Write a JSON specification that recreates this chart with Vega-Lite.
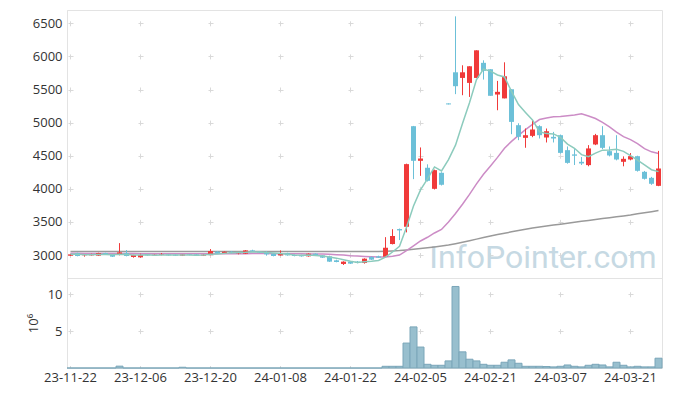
{
  "$schema": "https://vega.github.io/schema/vega-lite/v6.json",
  "padding": {"left": 26, "top": 9, "right": 9, "bottom": 5},
  "background": "white",
  "spacing": 0,
  "bounds": "flush",
  "config": {
    "font": "Open Sans",
    "view": {"stroke": "#e3e3e3"},
    "axis": {
      "labelFont": "Open Sans",
      "labelFontSize": 13,
      "labelColor": "#333333",
      "labelOverlap": false,
      "domainColor": "#e3e3e3",
      "ticks": false,
      "gridColor": "#d9d9d9",
      "titleFont": "Open Sans",
      "titleFontSize": 13,
      "titleFontWeight": "normal",
      "titleColor": "#333333"
    }
  },
  "data": {
    "values": [
      {"d": "23-11-22", "o": 2990, "h": 3015, "l": 2985, "c": 3010, "v": 0, "ma5": 3012, "ma20": 3025, "ma120": 3055},
      {"d": "23-11-23", "o": 3030, "h": 3035, "l": 2980, "c": 2985, "v": 0, "ma5": 3010, "ma20": 3025, "ma120": 3055},
      {"d": "23-11-24", "o": 2995, "h": 3005, "l": 2975, "c": 3000, "v": 0, "ma5": 3005, "ma20": 3024, "ma120": 3055},
      {"d": "23-11-27", "o": 2995, "h": 3020, "l": 2990, "c": 3015, "v": 0, "ma5": 3005, "ma20": 3024, "ma120": 3055},
      {"d": "23-11-28", "o": 2990, "h": 3035, "l": 2985, "c": 3030, "v": 0, "ma5": 3008, "ma20": 3024, "ma120": 3055},
      {"d": "23-11-29", "o": 3030, "h": 3035, "l": 3000, "c": 3005, "v": 0, "ma5": 3007, "ma20": 3023, "ma120": 3055},
      {"d": "23-11-30", "o": 3010, "h": 3015, "l": 2970, "c": 2975, "v": 0, "ma5": 3004, "ma20": 3023, "ma120": 3055},
      {"d": "23-12-01", "o": 3000, "h": 3180, "l": 2995, "c": 3040, "v": 0.25, "ma5": 3013, "ma20": 3023, "ma120": 3055},
      {"d": "23-12-04", "o": 3030, "h": 3075, "l": 2980, "c": 2985, "v": 0, "ma5": 3007, "ma20": 3022, "ma120": 3055},
      {"d": "23-12-05", "o": 2970, "h": 3005, "l": 2960, "c": 3000, "v": 0, "ma5": 3001, "ma20": 3022, "ma120": 3055},
      {"d": "23-12-06", "o": 2965, "h": 3020, "l": 2960, "c": 3000, "v": 0, "ma5": 3000, "ma20": 3021, "ma120": 3055},
      {"d": "23-12-07", "o": 3010, "h": 3015, "l": 2990, "c": 2995, "v": 0, "ma5": 3004, "ma20": 3021, "ma120": 3055},
      {"d": "23-12-08", "o": 2995, "h": 3010, "l": 2990, "c": 3005, "v": 0, "ma5": 2997, "ma20": 3020, "ma120": 3055},
      {"d": "23-12-11", "o": 3000, "h": 3030, "l": 2995, "c": 3010, "v": 0, "ma5": 3002, "ma20": 3020, "ma120": 3055},
      {"d": "23-12-12", "o": 3010, "h": 3015, "l": 2990, "c": 2995, "v": 0, "ma5": 3001, "ma20": 3020, "ma120": 3055},
      {"d": "23-12-13", "o": 3005, "h": 3010, "l": 2985, "c": 2990, "v": 0, "ma5": 2999, "ma20": 3019, "ma120": 3055},
      {"d": "23-12-14", "o": 2990, "h": 3015, "l": 2985, "c": 3010, "v": 0.1, "ma5": 3002, "ma20": 3019, "ma120": 3055},
      {"d": "23-12-15", "o": 3010, "h": 3015, "l": 2995, "c": 3000, "v": 0, "ma5": 3001, "ma20": 3019, "ma120": 3055},
      {"d": "23-12-18", "o": 3010, "h": 3015, "l": 2985, "c": 2990, "v": 0, "ma5": 2997, "ma20": 3018, "ma120": 3055},
      {"d": "23-12-19", "o": 2990, "h": 3010, "l": 2985, "c": 3005, "v": 0, "ma5": 2999, "ma20": 3018, "ma120": 3055},
      {"d": "23-12-20", "o": 3000, "h": 3090, "l": 2995, "c": 3060, "v": 0, "ma5": 3013, "ma20": 3018, "ma120": 3055},
      {"d": "23-12-21", "o": 3050, "h": 3060, "l": 3015, "c": 3020, "v": 0, "ma5": 3015, "ma20": 3018, "ma120": 3055},
      {"d": "23-12-22", "o": 3020, "h": 3055, "l": 3015, "c": 3050, "v": 0, "ma5": 3025, "ma20": 3019, "ma120": 3055},
      {"d": "23-12-26", "o": 3050, "h": 3060, "l": 3025, "c": 3030, "v": 0, "ma5": 3033, "ma20": 3019, "ma120": 3055},
      {"d": "23-12-27", "o": 3025, "h": 3040, "l": 3010, "c": 3035, "v": 0, "ma5": 3039, "ma20": 3020, "ma120": 3055},
      {"d": "23-12-28", "o": 3020, "h": 3075, "l": 3015, "c": 3070, "v": 0, "ma5": 3041, "ma20": 3021, "ma120": 3055},
      {"d": "24-01-02", "o": 3070, "h": 3080, "l": 3045, "c": 3050, "v": 0, "ma5": 3047, "ma20": 3022, "ma120": 3055},
      {"d": "24-01-03", "o": 3050, "h": 3060, "l": 3030, "c": 3035, "v": 0, "ma5": 3044, "ma20": 3022, "ma120": 3055},
      {"d": "24-01-04", "o": 3040, "h": 3060, "l": 2990, "c": 3010, "v": 0, "ma5": 3040, "ma20": 3022, "ma120": 3055},
      {"d": "24-01-05", "o": 3020, "h": 3030, "l": 2980, "c": 2985, "v": 0, "ma5": 3030, "ma20": 3021, "ma120": 3055},
      {"d": "24-01-08", "o": 2995, "h": 3070, "l": 2990, "c": 3030, "v": 0, "ma5": 3022, "ma20": 3021, "ma120": 3055},
      {"d": "24-01-09", "o": 3030, "h": 3035, "l": 2990, "c": 2995, "v": 0, "ma5": 3011, "ma20": 3020, "ma120": 3055},
      {"d": "24-01-10", "o": 3000, "h": 3010, "l": 2980, "c": 2985, "v": 0, "ma5": 3001, "ma20": 3019, "ma120": 3055},
      {"d": "24-01-11", "o": 3000, "h": 3005, "l": 2975, "c": 2980, "v": 0, "ma5": 2997, "ma20": 3018, "ma120": 3055},
      {"d": "24-01-12", "o": 2980, "h": 3025, "l": 2975, "c": 3020, "v": 0, "ma5": 3002, "ma20": 3017, "ma120": 3055},
      {"d": "24-01-15", "o": 3020, "h": 3025, "l": 2985, "c": 2990, "v": 0, "ma5": 2994, "ma20": 3016, "ma120": 3055},
      {"d": "24-01-16", "o": 2995, "h": 3000, "l": 2955, "c": 2960, "v": 0, "ma5": 2987, "ma20": 3014, "ma120": 3055},
      {"d": "24-01-17", "o": 2980, "h": 2990, "l": 2895, "c": 2900, "v": 0, "ma5": 2970, "ma20": 3010, "ma120": 3055},
      {"d": "24-01-18", "o": 2920, "h": 2930, "l": 2890, "c": 2895, "v": 0, "ma5": 2953, "ma20": 3005, "ma120": 3055},
      {"d": "24-01-19", "o": 2865, "h": 2905, "l": 2850, "c": 2900, "v": 0, "ma5": 2929, "ma20": 3000, "ma120": 3055},
      {"d": "24-01-22", "o": 2900, "h": 2910, "l": 2865, "c": 2870, "v": 0, "ma5": 2905, "ma20": 2990, "ma120": 3055},
      {"d": "24-01-23", "o": 2900, "h": 2910, "l": 2875, "c": 2880, "v": 0, "ma5": 2889, "ma20": 2984, "ma120": 3055},
      {"d": "24-01-24", "o": 2880, "h": 2950, "l": 2870, "c": 2945, "v": 0, "ma5": 2898, "ma20": 2978, "ma120": 3055},
      {"d": "24-01-25", "o": 2970, "h": 2980, "l": 2925, "c": 2930, "v": 0, "ma5": 2905, "ma20": 2973, "ma120": 3055},
      {"d": "24-01-26", "o": 2980, "h": 2990, "l": 2955, "c": 2960, "v": 0, "ma5": 2917, "ma20": 2970, "ma120": 3055},
      {"d": "24-01-29", "o": 2975, "h": 3270, "l": 2970, "c": 3110, "v": 0.23, "ma5": 2967, "ma20": 2972, "ma120": 3058},
      {"d": "24-01-30", "o": 3166, "h": 3390, "l": 3160, "c": 3287, "v": 0.23, "ma5": 3046, "ma20": 2983, "ma120": 3062},
      {"d": "24-01-31", "o": 3392, "h": 3400, "l": 3226, "c": 3372, "v": 0.23, "ma5": 3132, "ma20": 3000, "ma120": 3067},
      {"d": "24-02-01", "o": 3427, "h": 4380, "l": 3342, "c": 4373, "v": 3.38, "ma5": 3420, "ma20": 3068, "ma120": 3076},
      {"d": "24-02-02", "o": 4946, "h": 4950, "l": 4146, "c": 4423, "v": 5.57, "ma5": 3740, "ma20": 3140, "ma120": 3086},
      {"d": "24-02-05", "o": 4423, "h": 4625, "l": 4196, "c": 4458, "v": 2.84, "ma5": 3983, "ma20": 3212, "ma120": 3098},
      {"d": "24-02-06", "o": 4318, "h": 4370, "l": 4110, "c": 4121, "v": 0.5, "ma5": 4149, "ma20": 3268, "ma120": 3110},
      {"d": "24-02-07", "o": 4000, "h": 4290, "l": 3990, "c": 4282, "v": 0.37, "ma5": 4331, "ma20": 3333, "ma120": 3122},
      {"d": "24-02-08", "o": 4242, "h": 4250, "l": 4050, "c": 4061, "v": 0.37, "ma5": 4269, "ma20": 3387, "ma120": 3135},
      {"d": "24-02-13", "o": 5290, "h": 5290, "l": 5275, "c": 5275, "v": 0.96, "ma5": 4440, "ma20": 3500, "ma120": 3150},
      {"d": "24-02-14", "o": 5760, "h": 6605, "l": 5430, "c": 5550, "v": 11.05, "ma5": 4659, "ma20": 3628, "ma120": 3170},
      {"d": "24-02-15", "o": 5675, "h": 5866, "l": 5414, "c": 5760, "v": 2.19, "ma5": 4987, "ma20": 3768, "ma120": 3192},
      {"d": "24-02-16", "o": 5600, "h": 5851, "l": 5388, "c": 5851, "v": 1.19, "ma5": 5300, "ma20": 3915, "ma120": 3215},
      {"d": "24-02-19", "o": 5675, "h": 6092, "l": 5675, "c": 6092, "v": 0.96, "ma5": 5650, "ma20": 4075, "ma120": 3240},
      {"d": "24-02-20", "o": 5903, "h": 5941, "l": 5650, "c": 5782, "v": 0.5, "ma5": 5807, "ma20": 4219, "ma120": 3265},
      {"d": "24-02-21", "o": 5806, "h": 5806, "l": 5405, "c": 5405, "v": 0.37, "ma5": 5778, "ma20": 4346, "ma120": 3288},
      {"d": "24-02-22", "o": 5424, "h": 5630, "l": 5187, "c": 5465, "v": 0.37, "ma5": 5719, "ma20": 4475, "ma120": 3310},
      {"d": "24-02-23", "o": 5366, "h": 5911, "l": 5366, "c": 5700, "v": 0.78, "ma5": 5689, "ma20": 4613, "ma120": 3330},
      {"d": "24-02-26", "o": 5504, "h": 5504, "l": 4825, "c": 5011, "v": 1.1, "ma5": 5473, "ma20": 4717, "ma120": 3350},
      {"d": "24-02-27", "o": 4961, "h": 4990, "l": 4735, "c": 4785, "v": 0.64, "ma5": 5273, "ma20": 4808, "ma120": 3370},
      {"d": "24-02-28", "o": 4770, "h": 4911, "l": 4620, "c": 4810, "v": 0.23, "ma5": 5154, "ma20": 4893, "ma120": 3388},
      {"d": "24-02-29", "o": 4800, "h": 5037, "l": 4780, "c": 4896, "v": 0.23, "ma5": 5040, "ma20": 4974, "ma120": 3407},
      {"d": "24-03-04", "o": 4946, "h": 4960, "l": 4760, "c": 4810, "v": 0.23, "ma5": 4862, "ma20": 5046, "ma120": 3425},
      {"d": "24-03-05", "o": 4775, "h": 4911, "l": 4700, "c": 4870, "v": 0.2, "ma5": 4834, "ma20": 5071, "ma120": 3438},
      {"d": "24-03-06", "o": 4785, "h": 4860, "l": 4700, "c": 4760, "v": 0.15, "ma5": 4829, "ma20": 5087, "ma120": 3452},
      {"d": "24-03-07", "o": 4810, "h": 4820, "l": 4530, "c": 4543, "v": 0.23, "ma5": 4776, "ma20": 5092, "ma120": 3465},
      {"d": "24-03-08", "o": 4584, "h": 4640, "l": 4380, "c": 4392, "v": 0.41, "ma5": 4675, "ma20": 5105, "ma120": 3480},
      {"d": "24-03-11", "o": 4520, "h": 4600, "l": 4360, "c": 4500, "v": 0.23, "ma5": 4613, "ma20": 5116, "ma120": 3495},
      {"d": "24-03-12", "o": 4408, "h": 4480, "l": 4360, "c": 4383, "v": 0.15, "ma5": 4516, "ma20": 5132, "ma120": 3510},
      {"d": "24-03-13", "o": 4358, "h": 4660, "l": 4340, "c": 4610, "v": 0.37, "ma5": 4486, "ma20": 5099, "ma120": 3523},
      {"d": "24-03-14", "o": 4670, "h": 4830, "l": 4660, "c": 4810, "v": 0.5, "ma5": 4539, "ma20": 5062, "ma120": 3537},
      {"d": "24-03-15", "o": 4810, "h": 4946, "l": 4600, "c": 4619, "v": 0.41, "ma5": 4584, "ma20": 5005, "ma120": 3550},
      {"d": "24-03-18", "o": 4569, "h": 4640, "l": 4490, "c": 4504, "v": 0.15, "ma5": 4585, "ma20": 4937, "ma120": 3564},
      {"d": "24-03-19", "o": 4543, "h": 4810, "l": 4430, "c": 4443, "v": 0.78, "ma5": 4597, "ma20": 4855, "ma120": 3578},
      {"d": "24-03-20", "o": 4408, "h": 4490, "l": 4340, "c": 4453, "v": 0.37, "ma5": 4566, "ma20": 4788, "ma120": 3591},
      {"d": "24-03-21", "o": 4443, "h": 4540, "l": 4430, "c": 4493, "v": 0.15, "ma5": 4502, "ma20": 4743, "ma120": 3605},
      {"d": "24-03-22", "o": 4493, "h": 4500, "l": 4260, "c": 4272, "v": 0.23, "ma5": 4433, "ma20": 4683, "ma120": 3622},
      {"d": "24-03-25", "o": 4257, "h": 4270, "l": 4140, "c": 4151, "v": 0.15, "ma5": 4362, "ma20": 4606, "ma120": 3639},
      {"d": "24-03-26", "o": 4166, "h": 4180, "l": 4060, "c": 4076, "v": 0.15, "ma5": 4289, "ma20": 4559, "ma120": 3655},
      {"d": "24-03-27", "o": 4045, "h": 4573, "l": 4040, "c": 4307, "v": 1.33, "ma5": 4260, "ma20": 4535, "ma120": 3672}
    ]
  },
  "vconcat": [
    {
      "width": 595,
      "height": 268,
      "encoding": {
        "x": {
          "field": "d",
          "type": "ordinal",
          "scale": {"paddingInner": 0, "paddingOuter": 0},
          "axis": {
            "labels": false,
            "title": null,
            "domain": false,
            "grid": true,
            "minExtent": 0,
            "maxExtent": 0,
            "labelPadding": 0,
            "values": ["23-11-22", "23-12-06", "23-12-20", "24-01-08", "24-01-22", "24-02-05", "24-02-21", "24-03-07", "24-03-21"],
            "gridDash": [5, 28.1],
            "gridDashOffset": 22.3
          }
        },
        "y": {
          "type": "quantitative",
          "scale": {"domain": [2653, 6701], "nice": false, "zero": false},
          "axis": {
            "title": null,
            "format": "d",
            "labelOverlap": false,
            "values": [3000, 3500, 4000, 4500, 5000, 5500, 6000, 6500],
            "labelPadding": 5,
            "grid": true,
            "gridDash": [5, 65],
            "gridDashOffset": 69
          }
        }
      },
      "layer": [
        {
          "data": {"values": [{"wm": "InfoPointer.com", "p": 2808}]},
          "mark": {"type": "text", "font": "Roboto", "fontSize": 32, "color": "#c6d9e3", "align": "right", "baseline": "alphabetic", "dx": -2},
          "encoding": {
            "text": {"field": "wm"},
            "x": {"datum": "24-03-27", "type": "ordinal"},
            "y": {"field": "p"}
          }
        },
        {
          "mark": {"type": "line", "color": "#9a9a9a", "strokeWidth": 1.5},
          "encoding": {"y": {"field": "ma120"}}
        },
        {
          "mark": {"type": "line", "color": "#cc8cc6", "strokeWidth": 1.5},
          "encoding": {"y": {"field": "ma20"}}
        },
        {
          "mark": {"type": "rule", "strokeWidth": 1},
          "encoding": {
            "y": {"field": "l"},
            "y2": {"field": "h"},
            "color": {"condition": {"test": "datum.c > datum.o", "value": "#f03a3a"}, "value": "#6cc0d8"}
          }
        },
        {
          "mark": {"type": "bar", "size": 5},
          "encoding": {
            "y": {"field": "o"},
            "y2": {"field": "c"},
            "color": {"condition": {"test": "datum.c > datum.o", "value": "#f03a3a"}, "value": "#6cc0d8"}
          }
        },
        {
          "mark": {"type": "line", "color": "#8ccbbd", "strokeWidth": 1.5},
          "encoding": {"y": {"field": "ma5"}}
        }
      ]
    },
    {
      "width": 595,
      "height": 90,
      "mark": {"type": "bar", "fill": "#98bfce", "stroke": "#7aa6b9", "strokeWidth": 1},
      "encoding": {
        "x": {
          "field": "d",
          "type": "ordinal",
          "scale": {"paddingInner": 0, "paddingOuter": 0},
          "axis": {
            "title": null,
            "labelAngle": 0,
            "labelPadding": 3,
            "values": ["23-11-22", "23-12-06", "23-12-20", "24-01-08", "24-01-22", "24-02-05", "24-02-21", "24-03-07", "24-03-21"],
            "grid": true,
            "gridDash": [5, 31.89],
            "gridDashOffset": 23.16
          }
        },
        "y": {
          "field": "v",
          "type": "quantitative",
          "scale": {"domain": [0, 12.2], "nice": false},
          "axis": {
            "title": "10⁶",
            "titlePadding": 7,
            "values": [5, 10],
            "labelPadding": 5,
            "grid": true,
            "gridDash": [5, 65],
            "gridDashOffset": 69
          }
        }
      }
    }
  ]
}
